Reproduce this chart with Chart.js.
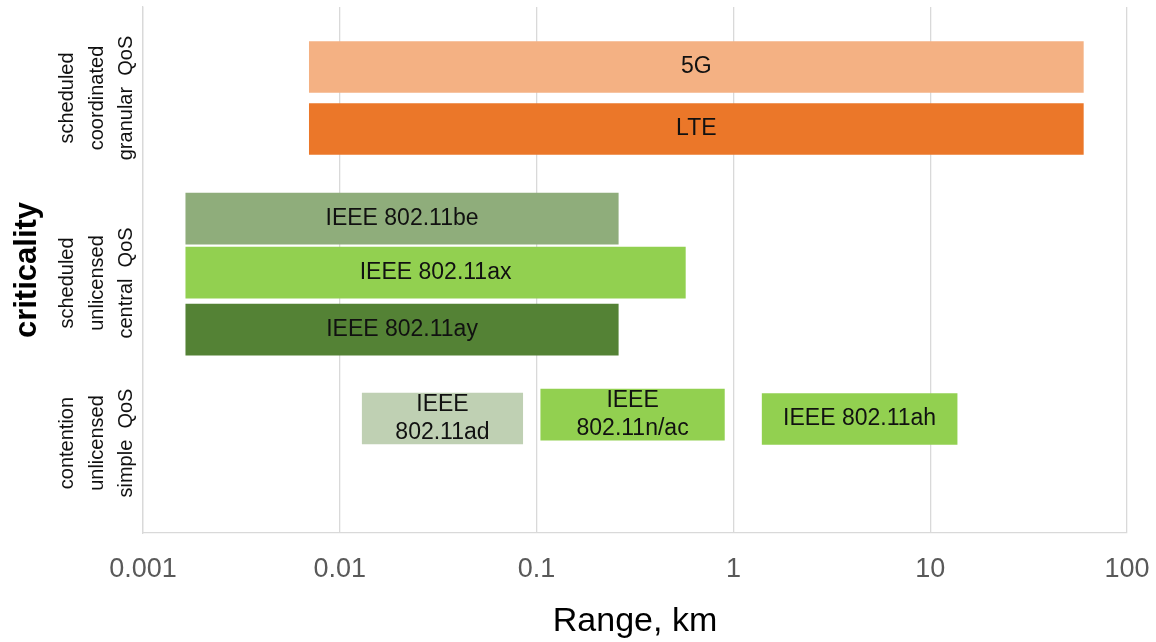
<!DOCTYPE html>
<html>
<head>
<meta charset="utf-8">
<script src="https://cdn.jsdelivr.net/npm/chart.js@4"></script>
<style>
  html, body { margin: 0; padding: 0; background: #fff; }
  #wrap { width: 1156px; height: 642px; position: relative; }
</style>
</head>
<body>
<div id="wrap"><canvas id="c"></canvas></div>
<script>
/* rango de cada tecnología (km) y fila en la que cae */
const techs    = ['5G', 'LTE', 'IEEE 802.11be', 'IEEE 802.11ax', 'IEEE 802.11ay', 'IEEE 802.11ad', 'IEEE 802.11n/ac', 'IEEE 802.11ah'];
const barText  = [['5G'], ['LTE'], ['IEEE 802.11be'], ['IEEE 802.11ax'], ['IEEE 802.11ay'], ['IEEE', '802.11ad'], ['IEEE', '802.11n/ac'], ['IEEE 802.11ah']];
const rangeMin = [0.007, 0.007, 0.00165, 0.00165, 0.00165, 0.013, 0.105, 1.4];
const rangeMax = [60, 60, 0.26, 0.57, 0.26, 0.085, 0.9, 13.7];
const rowPos   = [0.342, 0.696, 1.207, 1.515, 1.840, 2.347, 2.325, 2.350];
const colors   = ['#F4B183', '#EB7729', '#8FAD7B', '#92D050', '#548235', '#BFD0B3', '#92D050', '#92D050'];

/* grupos de criticidad (eje y) */
const groups   = [['scheduled', 'coordinated', 'granular  QoS'],
                  ['scheduled', 'unlicensed', 'central  QoS'],
                  ['contention', 'unlicensed', 'simple  QoS']];
const groupPos = [0.519, 1.574, 2.487];
const xTicks   = [0.001, 0.01, 0.1, 1, 10, 100];

const FONT = "'Liberation Sans', Arial, sans-serif";

/* etiquetas de texto dentro de cada barra */
const barLabels = {
  id: 'barLabels',
  afterDatasetsDraw(chart) {
    const { ctx } = chart;
    const meta = chart.getDatasetMeta(0);
    ctx.save();
    ctx.fillStyle = '#111';
    ctx.font = `23px ${FONT}`;
    ctx.textAlign = 'center';
    ctx.textBaseline = 'middle';
    meta.data.forEach((el, i) => {
      const p = el.getProps(['x', 'y', 'base'], true);
      const cx = (p.x + p.base) / 2;
      const lines = barText[i];
      const lh = 28;
      lines.forEach((t, k) => ctx.fillText(t, cx, p.y + (k - (lines.length - 1) / 2) * lh));
    });
    ctx.restore();
  }
};

/* rótulos rotados del eje y + título "criticality" */
const groupLabels = {
  id: 'groupLabels',
  afterDraw(chart) {
    const { ctx, chartArea } = chart;
    const y = chart.scales.y;
    ctx.save();
    ctx.textAlign = 'center';
    ctx.textBaseline = 'middle';
    ctx.fillStyle = '#111';
    ctx.font = `20px ${FONT}`;
    const offs = [-76, -46, -17];
    groups.forEach((g, i) => {
      const cy = y.getPixelForValue(groupPos[i]);
      g.forEach((line, k) => {
        ctx.save();
        ctx.translate(chartArea.left + offs[k], cy);
        ctx.rotate(-Math.PI / 2);
        ctx.fillText(line, 0, 0);
        ctx.restore();
      });
    });
    ctx.save();
    ctx.font = `bold 31px ${FONT}`;
    ctx.fillStyle = '#000';
    ctx.translate(27, (chartArea.top + chartArea.bottom) / 2);
    ctx.rotate(-Math.PI / 2);
    ctx.fillText('criticality', 0, 0);
    ctx.restore();
    ctx.restore();
  }
};

new Chart(document.getElementById('c'), {
  type: 'bar',
  data: {
    labels: techs,
    datasets: [{
      data: techs.map((t, i) => ({ x: [rangeMin[i], rangeMax[i]], y: rowPos[i] })),
      backgroundColor: colors,
      borderWidth: 0,
      barThickness: 51,
    }]
  },
  options: {
    indexAxis: 'y',
    responsive: true, maintainAspectRatio: false, animation: false,
    layout: { padding: { left: 0, right: 29, top: 7, bottom: 0 } },
    plugins: { legend: { display: false }, tooltip: { enabled: false } },
    scales: {
      x: {
        type: 'logarithmic', min: 0.001, max: 100,
        afterBuildTicks: s => { s.ticks = xTicks.map(v => ({ value: v })); },
        afterFit: s => { s.height = 109; s.paddingLeft = 0; s.paddingRight = 0; },
        ticks: { color: '#595959', font: { family: FONT, size: 27 }, padding: 20, maxRotation: 0, autoSkip: false,
                 callback: v => String(v) },
        grid: { color: '#D9D9D9', lineWidth: 1.3, drawTicks: false },
        border: { display: true, color: '#D9D9D9', width: 1.3 },
        title: { display: true, text: 'Range, km', color: '#000', font: { family: FONT, size: 34 }, padding: { top: 2, bottom: 0 } },
      },
      y: {
        type: 'linear', min: 0, max: 3, reverse: true, offset: false,
        afterFit: s => { s.width = 143; },
        ticks: { display: false },
        grid: { display: false },
        border: { display: true, color: '#D9D9D9', width: 1.3 },
      },
    },
  },
  plugins: [barLabels, groupLabels],
});
</script>
</body>
</html>
